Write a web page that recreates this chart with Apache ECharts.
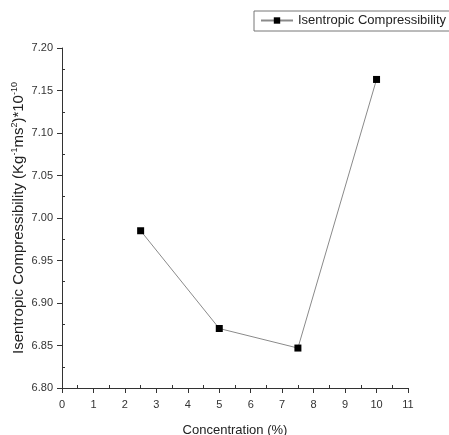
<!DOCTYPE html>
<html lang="en">
<head>
  <meta charset="UTF-8">
  <title>Isentropic Compressibility</title>
  <style>
    html, body { margin: 0; padding: 0; background: #fff; }
    #chart { width: 449px; height: 435px; }
  </style>
</head>
<body>
  <div id="chart"></div>
  <script src="https://cdn.jsdelivr.net/npm/echarts@6/dist/echarts.min.js"></script>
  <script>
    const concentration = [2.5, 5, 7.5, 10]
    const compressibility = [6.985, 6.870, 6.847, 7.163]
    const xTicks = [0, 1, 2, 3, 4, 5, 6, 7, 8, 9, 10, 11]
    const yTicks = [6.80, 6.85, 6.90, 6.95, 7.00, 7.05, 7.10, 7.15, 7.20]

    const font = '"Liberation Sans", Arial, sans-serif'

    const option = {
      animation: false,
      textStyle: { fontFamily: font },
      grid: { left: 62, right: 41, top: 48, bottom: 47, outerBoundsMode: 'none', containLabel: false },
      legend: {
        left: 254,
        top: 11,
        padding: [3, 10, 4, 6],
        borderColor: '#777',
        borderWidth: 1,
        itemWidth: 32,
        itemHeight: 8,
        itemGap: 4,
        textStyle: { fontFamily: font, fontSize: 13, color: '#222' },
        data: ['Isentropic Compressibility']
      },
      xAxis: {
        type: 'value',
        min: xTicks[0],
        max: xTicks[xTicks.length - 1],
        interval: 1,
        name: 'Concentration (%)',
        nameLocation: 'middle',
        nameGap: 36,
        nameTextStyle: { fontFamily: font, fontSize: 13, color: '#222' },
        axisLine: { lineStyle: { color: '#333', width: 1 } },
        axisTick: { length: 5, lineStyle: { color: '#333' } },
        minorTick: { show: true, splitNumber: 2, length: -3, lineStyle: { color: '#333' } },
        axisLabel: { fontFamily: font, fontSize: 11, color: '#333', margin: 11 },
        splitLine: { show: false }
      },
      yAxis: {
        type: 'value',
        min: yTicks[0],
        max: yTicks[yTicks.length - 1],
        interval: 0.05,
        name: '{n|Isentropic Compressibility (Kg}{s|-1}{n|ms}{s|2}{n|)*10}{s|-10}',
        nameLocation: 'middle',
        nameRotate: 90,
        nameGap: 34,
        nameMoveOverlap: false,
        nameTextStyle: {
          rich: {
            n: { fontFamily: font, fontSize: 15, color: '#222' },
            s: { fontFamily: font, fontSize: 9, color: '#222', verticalAlign: 'top', padding: [0, 0, 9, 0] }
          }
        },
        axisLine: { show: true, lineStyle: { color: '#333', width: 1 } },
        axisTick: { show: true, length: 5, lineStyle: { color: '#333' } },
        minorTick: { show: true, splitNumber: 2, length: -3, lineStyle: { color: '#333' } },
        axisLabel: {
          fontFamily: font, fontSize: 11, color: '#333', margin: 9,
          formatter: v => v.toFixed(2)
        },
        splitLine: { show: false }
      },
      series: [
        {
          name: 'Isentropic Compressibility',
          type: 'line',
          data: concentration.map((c, i) => [c, compressibility[i]]),
          symbol: 'rect',
          symbolSize: 7,
          itemStyle: { color: '#000' },
          lineStyle: { color: '#8a8a8a', width: 1 }
        }
      ]
    }

    const myChart = echarts.init(document.getElementById('chart'))
    myChart.setOption(option)
  </script>
</body>
</html>
